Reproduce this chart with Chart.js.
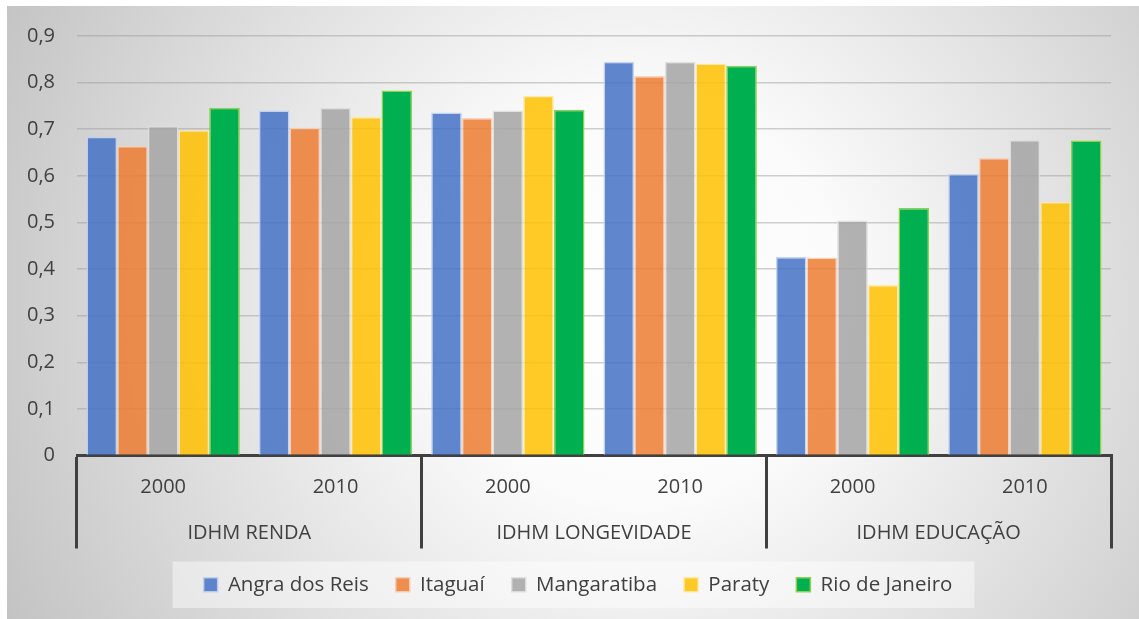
<!DOCTYPE html>
<html lang="pt-BR">
<head>
<meta charset="utf-8">
<title>IDHM – Renda, Longevidade e Educação</title>
<script src="https://cdn.jsdelivr.net/npm/chart.js@4.4.1/dist/chart.umd.min.js"></script>
<style>
  html, body { margin: 0; padding: 0; background: #ffffff; }
  canvas { display: block; }
</style>
</head>
<body>
<canvas id="chart" width="1139" height="619"></canvas>
<script>
// Anos (eixo interno) e dimensões do IDHM (eixo externo)
const categories = ['2000', '2010', '2000', '2010', '2000', '2010'];
const groups = ['IDHM RENDA', 'IDHM LONGEVIDADE', 'IDHM EDUCAÇÃO'];

// Valores por município / estado, na ordem das categorias
const angraDosReis = [0.684, 0.740, 0.736, 0.845, 0.426, 0.604];
const itaguai      = [0.664, 0.703, 0.724, 0.814, 0.425, 0.638];
const mangaratiba  = [0.707, 0.746, 0.740, 0.845, 0.504, 0.677];
const paraty       = [0.698, 0.726, 0.772, 0.841, 0.366, 0.544];
const rioDeJaneiro = [0.746, 0.783, 0.742, 0.836, 0.531, 0.676];

const seriesNames = ['Angra dos Reis', 'Itaguaí', 'Mangaratiba', 'Paraty', 'Rio de Janeiro'];
const yTicks = [0, 0.1, 0.2, 0.3, 0.4, 0.5, 0.6, 0.7, 0.8, 0.9];

const FONT = '"Open Sans", "DejaVu Sans", sans-serif';
const TEXT = '#404040';
const AXIS = '#404040';

const fills   = ['rgba(68,114,196,0.85)', 'rgba(237,125,49,0.85)', 'rgba(165,165,165,0.85)', 'rgba(255,192,0,0.85)', 'rgba(0,176,80,1)'];
const borders = ['rgba(190,208,240,0.9)', 'rgba(248,206,180,0.9)', 'rgba(222,222,222,0.9)', 'rgba(255,232,160,0.9)', '#8fd14f'];
const values  = [angraDosReis, itaguai, mangaratiba, paraty, rioDeJaneiro];

const datasets = seriesNames.map((name, i) => ({
  label: name,
  data: values[i],
  backgroundColor: fills[i],
  borderColor: borders[i],
  borderWidth: 1.5,
  borderSkipped: 'start',
  categoryPercentage: 0.89,
  barPercentage: 1.0
}));

// Fundo com degradê radial e caixa clara atrás da legenda
const backdrop = {
  id: 'backdrop',
  beforeDraw(chart) {
    const { ctx, width, height } = chart;
    ctx.save();
    ctx.fillStyle = '#ffffff';
    ctx.fillRect(0, 0, width, height);
    const cx = 640, cy = 300;
    const g = ctx.createRadialGradient(cx, cy, 0, cx, cy, 720);
    g.addColorStop(0, '#ffffff');
    g.addColorStop(0.28, '#fbfbfb');
    g.addColorStop(0.65, '#dedede');
    g.addColorStop(1, '#c2c2c2');
    ctx.fillStyle = g;
    ctx.fillRect(7, 6, width - 7, height - 6);

    const boxes = chart.legend && chart.legend.legendHitBoxes;
    if (boxes && boxes.length) {
      const first = boxes[0], last = boxes[boxes.length - 1];
      const left = first.left - 31;
      const right = last.left + last.width + 22;
      const top = first.top - 13;
      const bottom = first.top + first.height + 13;
      ctx.fillStyle = 'rgba(255,255,255,0.45)';
      ctx.fillRect(left, top, right - left, bottom - top);
    }
    ctx.restore();
  }
};

new Chart(document.getElementById('chart'), {
  type: 'bar',
  data: { labels: categories, datasets },
  plugins: [backdrop],
  options: {
    responsive: false,
    devicePixelRatio: 1,
    animation: false,
    layout: { padding: { top: 36, left: 17, right: 0, bottom: 14 } },
    plugins: {
      legend: {
        position: 'bottom',
        labels: {
          font: { family: FONT, size: 20.5 },
          color: TEXT,
          boxWidth: 14,
          boxHeight: 14,
          padding: 27
        }
      },
      tooltip: { enabled: false }
    },
    scales: {
      y: {
        min: 0,
        max: 0.9,
        afterBuildTicks(scale) { scale.ticks = yTicks.map(v => ({ value: v })); },
        afterFit(scale) { scale.width = 60; },
        border: { display: false },
        grid: { color: 'rgba(150,150,150,0.45)', lineWidth: 1.5, drawTicks: false },
        ticks: {
          padding: 22,
          color: TEXT,
          font: { family: FONT, size: 20 },
          callback: v => (v === 0 ? '0' : v.toFixed(1).replace('.', ','))
        }
      },
      // margem direita reservada como eixo vazio
      yRight: {
        type: 'linear',
        position: 'right',
        afterFit(scale) { scale.width = 28; },
        border: { display: false },
        grid: { display: false },
        ticks: { display: false }
      },
      x: {
        weight: 0,
        afterFit(scale) { scale.height = 49; },
        border: { display: true, color: AXIS, width: 3 },
        grid: {
          offset: true,
          drawOnChartArea: false,
          drawTicks: true,
          tickLength: 93,
          lineWidth: 3,
          color: ctx => (ctx.type === 'tick' && ctx.index % 2 === 1 ? 'rgba(0,0,0,0)' : AXIS)
        },
        ticks: {
          padding: -73,
          color: TEXT,
          font: { family: FONT, size: 20 },
          maxRotation: 0
        }
      },
      x2: {
        type: 'category',
        position: 'bottom',
        weight: 1,
        labels: groups,
        offset: true,
        afterFit(scale) { scale.height = 43; },
        border: { display: false },
        grid: { display: false },
        ticks: {
          padding: 9,
          color: TEXT,
          font: { family: FONT, size: 20 },
          maxRotation: 0
        }
      }
    }
  }
});
</script>
</body>
</html>
